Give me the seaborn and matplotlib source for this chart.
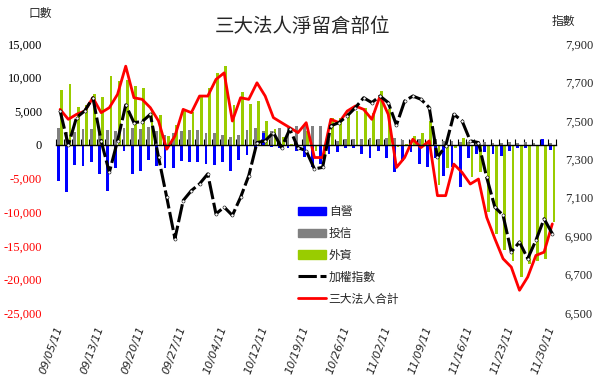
import numpy as np
import matplotlib
matplotlib.use("Agg")
import matplotlib.pyplot as plt
import seaborn as sns
from matplotlib.patches import Patch
from matplotlib.lines import Line2D

# --- data ---
date_labels = ["09/05/11", "09/13/11", "09/20/11", "09/27/11", "10/04/11", "10/12/11", "10/19/11",
               "10/26/11", "11/02/11", "11/09/11", "11/16/11", "11/23/11", "11/30/11"]

dealer = [-5300, -7000, -3000, -3200, -2600, -4400, -6800, -3500, -900, -4400,
          -3900, -2200, -3100, -3500, -3400, -2400, -2500, -2500, -2900, -3000,
          -2500, -3850, -2300, -1500, -500, 1800, -300, -400, -400, -900,
          -1800, -3360, -2900, -1400, -1100, -500, -400, -1300, -1900, -900,
          -1900, -4100, -2400, -1100, -2800, -3300, -1900, -4700, -3300, -6300,
          -1900, -1400, -1100, -1400, -1600, -900, -400, -400, -150, 800, -800]

trust = [2470, 1970, 1970, 2320, 2320, 2070, 2170, 2070, 2470, 2470,
         2320, 2670, 2070, 1480, 1820, 2070, 2170, 2170, 1820, 1820,
         1480, 1230, 1500, 2170, 2470, 2070, 2070, 2470, 2810, 2810,
         2810, 2810, 2810, 840, 590, 840, 840, 840, 990, 840,
         990, 990, 700, 700, 800, 500, 800, 600, 600, 500,
         400, 300, 400, 300, 300, 400, 300, 400, 300, 500, 300]

foreign = [8200, 9000, 5700, 6000, 7500, 7100, 10300, 9500, 9700, 8700,
           8400, 5200, 4500, 1300, 3000, 5300, 4900, 7300, 8400, 10700,
           11700, 6000, 7800, 6100, 6500, 3500, 2300, 1200, 200, -100,
           2100, -900, -1500, 4000, 4000, 4800, 5000, 5500, 4700, 8000,
           5400, -300, 200, 1300, 1700, 3500, -6000, -3500, -500, 1000,
           -4800, -4000, -10000, -13200, -15600, -17200, -19700, -17700, -17200, -17000, -11500]

total = [5280, 3800, 4540, 5030, 7010, 4790, 5530, 7510, 11700, 7010,
         6770, 5530, 3550, -640, 1330, 5280, 4790, 7260, 7260, 9730,
         10710, 3550, 7010, 6770, 9230, 7260, 4050, 3300, 2560, 1820,
         3300, -1880, -1880, 3800, 3300, 5030, 5780, 5280, 3800, 7260,
         4540, -3360, -1880, 840, -400, 590, -7550, -7550, -2860, -4100,
         -5820, -5080, -10770, -13960, -16930, -18170, -21620, -19650, -16440, -15950, -11750]

taiex = [7552, 7374, 7517, 7552, 7620, 7396, 7232, 7396, 7583, 7491,
         7496, 7534, 7310, 7102, 6887, 7085, 7137, 7172, 7224, 7016,
         7051, 7008, 7102, 7215, 7387, 7396, 7439, 7361, 7457, 7361,
         7344, 7250, 7258, 7474, 7491, 7526, 7569, 7620, 7595, 7629,
         7595, 7478, 7603, 7629, 7612, 7569, 7310, 7370, 7534, 7500,
         7396, 7387, 7206, 7051, 7008, 6818, 6869, 6783, 6878, 6990, 6913]

BLUE, GRAY, GREEN, RED = "#0000FF", "#808080", "#99CC00", "#FF0000"

sns.set_theme(style="white")
plt.rcParams["font.family"] = ["Noto Sans CJK TC", "DejaVu Sans"]

pos = np.arange(len(total))

fig = plt.figure(figsize=(6, 3.86), dpi=100)
ax = fig.add_axes([56 / 600, 73 / 386, 500.4 / 600, 269 / 386])

# bars: dealer and trust share a slot, foreign sits to the right
ax.bar(pos - 0.22, trust, width=0.34, color=GRAY, linewidth=0)
ax.bar(pos - 0.22, dealer, width=0.34, color=BLUE, linewidth=0)
ax.bar(pos + 0.2, foreign, width=0.34, color=GREEN, linewidth=0)
sns.lineplot(x=pos, y=total, color=RED, lw=2, ax=ax)

ax.set_xlim(-0.5, len(total) - 0.5)
ax.set_ylim(-25000, 15000)
yt = list(range(-25000, 15001, 5000))
ax.set_yticks(yt)
ax.set_yticklabels([f"{v:,}" for v in yt], family="Liberation Serif", fontsize=9)
for lab, v in zip(ax.get_yticklabels(), yt):
    lab.set_color(RED if v < 0 else "black")
ax.tick_params(axis="y", length=0, pad=10)
ax.set_xlabel("")
ax.set_ylabel("")

# x axis sits at zero with small tick marks between days
for s in ["left", "right", "top"]:
    ax.spines[s].set_visible(False)
ax.spines["bottom"].set_position(("data", 0))
ax.spines["bottom"].set_color("black")
ax.spines["bottom"].set_linewidth(1)
ax.set_xticks([])
ax.set_xticks(np.arange(-0.5, len(total), 1), minor=True)
ax.tick_params(axis="x", which="minor", bottom=True, direction="in", length=4, width=0.8, color="black")

sec = ax.secondary_xaxis("bottom")
sec.set_xticks(pos[::5])
sec.set_xticklabels(date_labels, rotation=70, ha="right", va="center",
                    rotation_mode="anchor", family="DejaVu Sans", style="italic", fontsize=8)
sec.tick_params(length=0, pad=10)
sec.spines["bottom"].set_visible(False)

ax2 = ax.twinx()
sns.lineplot(x=pos, y=taiex, color="black", lw=2.2, linestyle=(0, (6, 1.2)),
             marker="o", markersize=2.2, markerfacecolor="white", markeredgecolor="black",
             markeredgewidth=0.4, ax=ax2)
ax2.set_ylim(6500, 7900)
rt = list(range(6500, 7901, 200))
ax2.set_yticks(rt)
ax2.set_yticklabels([f"{v:,}" for v in rt], family="Liberation Serif", fontsize=9)
ax2.tick_params(axis="y", length=0, pad=6)
ax2.set_ylabel("")
for s in ax2.spines.values():
    s.set_visible(False)

fig.text(303 / 600, 1 - 27 / 386, "三大法人淨留倉部位", ha="center", va="center", fontsize=14)
fig.text(40 / 600, 1 - 13 / 386, "口數", ha="center", va="center", fontsize=8.5)
fig.text(563 / 600, 1 - 21 / 386, "指數", ha="center", va="center", fontsize=8.5)

handles = [Patch(color=BLUE), Patch(color=GRAY), Patch(color=GREEN),
           Line2D([], [], color="black", lw=2.2, linestyle=(0, (6, 1.2))),
           Line2D([], [], color=RED, lw=2)]
labels = ["自營", "投信", "外資", "加權指數", "三大法人合計"]
fig.legend(handles, labels, loc="upper left", bbox_to_anchor=(298 / 600, 1 - 205 / 386),
           frameon=False, fontsize=8.5, handlelength=2.4, handleheight=0.7,
           handletextpad=0.2, labelspacing=0.75, borderpad=0, borderaxespad=0)

fig.savefig("out.png", dpi=100)
